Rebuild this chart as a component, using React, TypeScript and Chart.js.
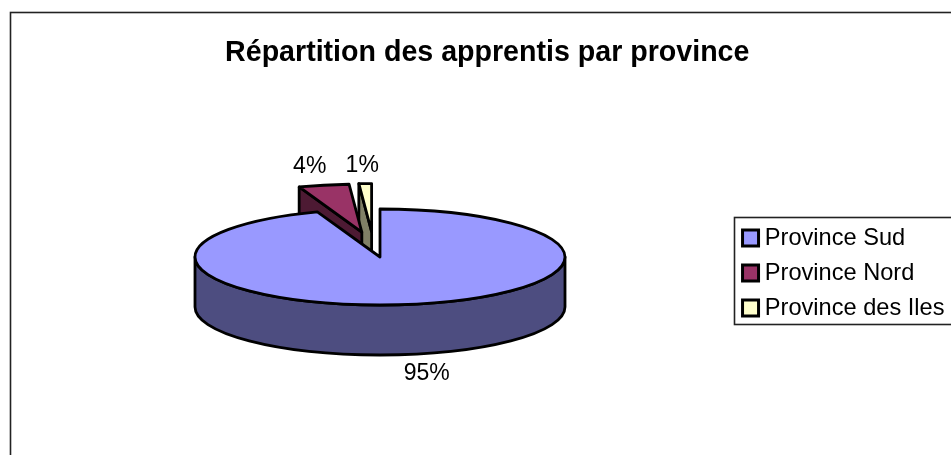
import { useEffect, useRef } from "react";
import { Chart, registerables } from "chart.js";

Chart.register(...registerables);

const categories = ["Province Sud", "Province Nord", "Province des Iles"];
const shares = [94.5, 4.4, 1.1];
const faceColors = ["#9999FF", "#993366", "#FFFFCC"];
const wallColors = ["#4D4D80", "#4D1A33", "#808066"];
const titleText = "Répartition des apprentis par province";

const FONT = '"Liberation Sans", Arial, sans-serif';
const RADIUS = 185;
const SQUASH = 48 / 185;
const DEPTH = 50;
const PIE_CENTER_X = 380;
const PIE_CENTER_Y = 257;
const OFFSETS = [0, 196, 196];
const NUDGE_X = [0, 2, -5];
const LABEL_NUDGE = [[15, 69], [-14, -18], [-3, -18]];

const pie3d = {
  id: "pie3d",
  beforeDraw(chart: any) {
    const { ctx } = chart;
    ctx.save();
    ctx.strokeStyle = "#222";
    ctx.lineWidth = 1.6;
    ctx.strokeRect(10.5, 12.5, chart.width, chart.height);
    ctx.restore();
  },
  beforeDatasetsDraw(chart: any) {
    const { ctx } = chart;
    const arcs = chart.getDatasetMeta(0).data;
    const order = arcs.map((_: any, i: number) => i).reverse();
    const shape = (arc: any, i: number) => {
      const off = (arc.options.offset || 0) / 2;
      const mid = (arc.startAngle + arc.endAngle) / 2;
      return {
        cx: PIE_CENTER_X + Math.cos(mid) * off + NUDGE_X[i],
        cy: PIE_CENTER_Y + Math.sin(mid) * off * SQUASH,
        rx: arc.outerRadius,
        ry: arc.outerRadius * SQUASH,
        a: arc.startAngle,
        b: arc.endAngle,
        mid,
      };
    };
    ctx.save();
    ctx.lineJoin = "round";
    ctx.strokeStyle = "#000";
    for (const i of order) {
      const arc = arcs[i];
      const { cx, cy, rx, ry, a, b } = shape(arc, i);
      ctx.lineWidth = 2.8;
      const pt = (t: number) => [cx + rx * Math.cos(t), cy + ry * Math.sin(t)];
      const paint = () => {
        ctx.fillStyle = wallColors[i];
        ctx.fill();
        ctx.stroke();
      };
      const wall = (t: number) => {
        const [x, y] = pt(t);
        ctx.beginPath();
        ctx.moveTo(cx, cy);
        ctx.lineTo(x, y);
        ctx.lineTo(x, y + DEPTH);
        ctx.lineTo(cx, cy + DEPTH);
        ctx.closePath();
        paint();
      };
      if (Math.cos(a) < -1e-6) wall(a);
      if (Math.cos(b) > 1e-6) wall(b);
      const from = Math.max(a, 0);
      const to = Math.min(b, Math.PI);
      if (to > from) {
        ctx.beginPath();
        ctx.ellipse(cx, cy, rx, ry, 0, from, to);
        ctx.ellipse(cx, cy + DEPTH, rx, ry, 0, to, from, true);
        ctx.closePath();
        paint();
      }
      ctx.beginPath();
      ctx.moveTo(cx, cy);
      ctx.ellipse(cx, cy, rx, ry, 0, a, b);
      ctx.closePath();
      ctx.fillStyle = faceColors[i];
      ctx.fill();
      ctx.stroke();
    }
    ctx.fillStyle = "#000";
    ctx.font = `23px ${FONT}`;
    ctx.textAlign = "center";
    ctx.textBaseline = "middle";
    arcs.forEach((arc: any, i: number) => {
      const { cx, cy, rx, ry, mid } = shape(arc, i);
      ctx.fillText(
        `${Math.round(shares[i])}%`,
        cx + rx * Math.cos(mid) + LABEL_NUDGE[i][0],
        cy + ry * Math.sin(mid) + LABEL_NUDGE[i][1]
      );
    });
    ctx.restore();
    return false;
  },
  afterDraw(chart: any) {
    const { ctx, legend } = chart;
    const mid = (legend.top + legend.bottom) / 2;
    ctx.save();
    ctx.strokeStyle = "#222";
    ctx.lineWidth = 1.6;
    ctx.strokeRect(Math.round(legend.left) - 2.5, mid - 55.5, 400, 107);
    ctx.restore();
  },
};

export default function App() {
  const ref = useRef<HTMLCanvasElement | null>(null);
  useEffect(() => {
    const chart = new Chart(ref.current as HTMLCanvasElement, {
      type: "pie",
      data: {
        labels: categories,
        datasets: [
          {
            data: shares,
            backgroundColor: faceColors,
            borderColor: "#000",
            borderWidth: 3,
            offset: OFFSETS,
            radius: RADIUS,
          } as any,
        ],
      },
      options: {
        responsive: false,
        animation: false,
        layout: { padding: { left: 20, right: 17.5, top: 0, bottom: 0 } },
        plugins: {
          tooltip: { enabled: false },
          title: {
            display: true,
            text: titleText,
            color: "#000",
            font: { family: FONT, size: 28.6, weight: "bold", lineHeight: 1.2 },
            padding: { top: 36, bottom: 10 },
          },
          legend: {
            position: "right",
            labels: {
              color: "#000",
              font: { family: FONT, size: 23.6 },
              usePointStyle: true,
              pointStyle: "rect",
              boxWidth: 5,
              boxHeight: 16,
              padding: 11.4,
            },
          },
        },
      },
      plugins: [pie3d],
    } as any);
    return () => chart.destroy();
  }, []);
  return (
    <div style={{ position: "fixed", left: 0, top: 0, width: 951, height: 455, overflow: "hidden", background: "#fff" }}>
      <canvas ref={ref} width={972} height={546} style={{ display: "block" }} />
    </div>
  );
}
